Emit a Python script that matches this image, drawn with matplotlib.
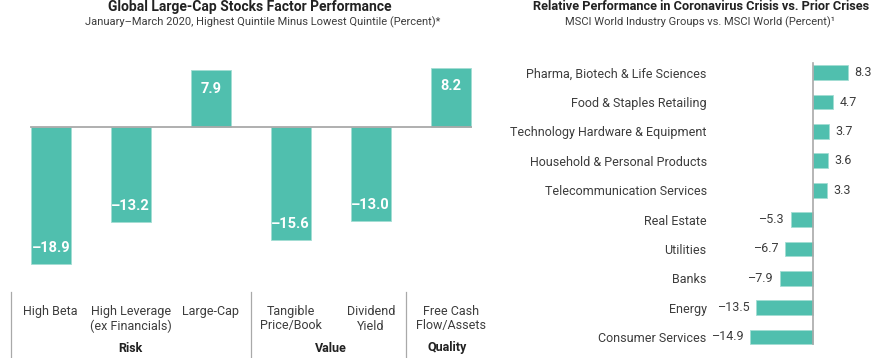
import matplotlib
matplotlib.use("Agg")
import matplotlib.pyplot as plt
import matplotlib.transforms as mtransforms

plt.rcParams['font.family'] = ['Roboto', 'DejaVu Sans']

# left chart data
factor_labels = ["High Beta", "High Leverage\n(ex Financials)", "Large-Cap",
                 "Tangible\nPrice/Book", "Dividend\nYield", "Free Cash\nFlow/Assets"]
factor_values = [-18.9, -13.2, 7.9, -15.6, -13.0, 8.2]
group_names = ["Risk", "Value", "Quality"]
group_centers = [1.0, 3.5, 4.95]
group_dividers = [-0.5, 2.5, 4.44]

# right chart data
industry_labels = ["Pharma, Biotech & Life Sciences", "Food & Staples Retailing",
                   "Technology Hardware & Equipment", "Household & Personal Products",
                   "Telecommunication Services", "Real Estate", "Utilities", "Banks",
                   "Energy", "Consumer Services"]
industry_values = [8.3, 4.7, 3.7, 3.6, 3.3, -5.3, -6.7, -7.9, -13.5, -14.9]

teal = "#50bfae"
edge = "#a3ddd3"
text_col = "#3c3c3c"
grey = "#a9a9a9"

W, H = 880, 358
fig = plt.figure(figsize=(W / 100, H / 100), dpi=100)


def px_axes(x0, y0, x1, y1):
    # pixel box measured from the top left corner
    return fig.add_axes([x0 / W, 1 - y1 / H, (x1 - x0) / W, (y1 - y0) / H])


def fmt(v):
    return f"{v:.1f}".replace("-", "\u2013")


# ---------- left chart ----------
ax = px_axes(0, 40, 480, 280)
xs = list(range(len(factor_values)))
ax.bar(xs, factor_values, width=0.5, color=teal, edgecolor=edge, linewidth=0.6, zorder=2)
ax.plot([-0.25, 5.25], [0, 0], color=grey, lw=1.3, zorder=3)
ax.set_xlim(-0.634, 5.366)
ax.set_ylim(-21.16, 12.03)
ax.axis("off")

# value labels sit inside the bar, near its end
for x, v in zip(xs, factor_values):
    dy = -13.5 if v > 0 else 11.5
    ax.annotate(fmt(v), (x, v), xytext=(0, dy), textcoords="offset points",
                ha="center", va="center", color="white", fontsize=10.5,
                fontweight="bold", zorder=4)

blend = mtransforms.blended_transform_factory(ax.transData, fig.transFigure)
for x, lab in zip(xs, factor_labels):
    ax.text(x, 1 - 305 / H, lab, transform=blend, ha="center", va="top",
            fontsize=9, color=text_col, linespacing=1.15)
for x, g in zip(group_centers, group_names):
    ax.text(x, 1 - 348 / H, g, transform=blend, ha="center", va="center",
            fontsize=9, color="#222222", fontweight="bold")
for x in group_dividers:
    ax.plot([x, x], [1 - 292 / H, 0], transform=blend, color=grey, lw=0.9, clip_on=False)

fig.text(250 / W, 1 - 7 / H, "Global Large-Cap Stocks Factor Performance",
         ha="center", va="center", fontsize=10, fontweight="bold", color="#222222")
fig.text(263 / W, 1 - 22 / H,
         "January\u2013March 2020, Highest Quintile Minus Lowest Quintile (Percent)*",
         ha="center", va="center", fontsize=8, color=text_col)

# ---------- right chart ----------
ax2 = px_axes(725, 50, 880, 358)
ys = list(range(len(industry_values)))
ax2.barh(ys, industry_values, height=0.5, color=teal, edgecolor=edge, linewidth=0.6, zorder=2)
ax2.plot([0, 0], [-0.33, 9.24], color=grey, lw=1.2, zorder=3)
ax2.set_xlim(-20.9, 15.8)
ax2.set_ylim(9.72, -0.777)
for s in ax2.spines.values():
    s.set_visible(False)
ax2.set_xticks([])
ax2.set_yticks(ys)
ax2.set_yticklabels(industry_labels, fontsize=9, color=text_col)
ax2.tick_params(axis="y", length=0, pad=13.2)

for y, v in zip(ys, industry_values):
    ax2.annotate(fmt(v), (v, y), xytext=(4.5 if v > 0 else -5, 0),
                 textcoords="offset points", ha="left" if v > 0 else "right",
                 va="center", fontsize=9, color=text_col)

fig.text(701 / W, 1 - 7 / H, "Relative Performance in Coronavirus Crisis vs. Prior Crises",
         ha="center", va="center", fontsize=9.2, fontweight="bold", color="#222222")
fig.text(700 / W, 1 - 22 / H, "MSCI World Industry Groups vs. MSCI World (Percent)\u00b9",
         ha="center", va="center", fontsize=8, color=text_col)

fig.savefig("out.png", dpi=100)
